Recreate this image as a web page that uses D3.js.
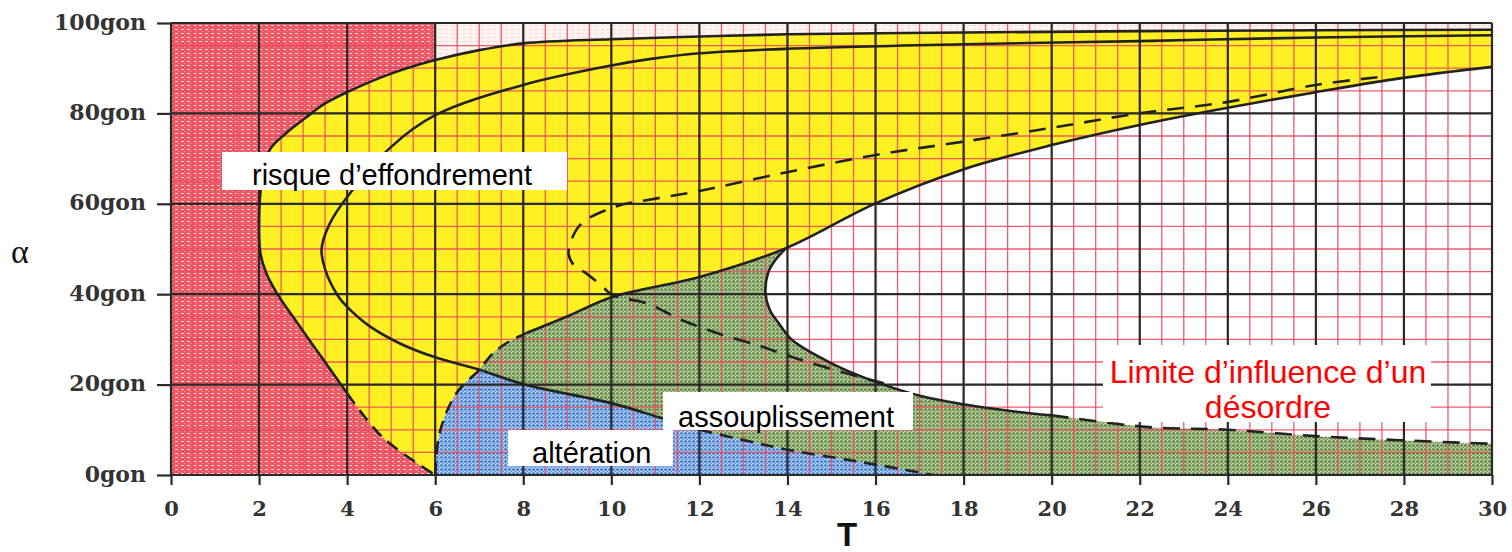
<!DOCTYPE html>
<html><head><meta charset="utf-8">
<script src="https://cdn.jsdelivr.net/npm/d3@7"></script>
<style>body{margin:0;background:#fff;} svg{display:block;}</style>
</head><body><svg id="c" width="1512" height="552"></svg>
<script>
// ---------- data ----------
const xTicks = [0,2,4,6,8,10,12,14,16,18,20,22,24,26,28,30];
const yTicks = [0,20,40,60,80,100];
const yTickLabels = ["0gon","20gon","40gon","60gon","80gon","100gon"];

// curves: [T, alpha(gon)]
const curveA_solid = [[30,98.5],[26,98.4],[22,98.2],[18,97.9],[14,97.5],[12,97.0],[10,96.4],[8,95.5],[7,94.0],[6,91.8],[5,88.8],[4,84.7],[3.5,82.2],[3.08,79.2],[2.6,75.5],[2.24,71.9],[2.06,65],[2.0,56.4],[2.03,49.1],[2.17,44.5],[2.4,40.3],[2.77,35],[3.3,27.7],[4.0,18.1]];
const curveA_dash = [[4.0,18.1],[4.8,8.4],[6,0]];
const curveB_solid = [[30,97.3],[26,96.8],[22,96.0],[18,95.3],[14,94.3],[12,93.3],[10.86,92.0],[10,90.6],[8,86.3],[6,79.6],[5,72.6],[4,61.5],[3.6,55.5],[3.42,50],[3.5,45.5],[3.8,39.5],[4,37.2],[4.5,33],[5.2,29.1],[5.95,26.2],[7.0,23.3],[8.07,19.9],[10,15.9],[11.1,12.7],[12,10.0]];
const curveB_dash = [[12,10.0],[13.1,7.5],[14,5.6],[15.4,3.3],[16.3,1.8],[17.3,0]];
const curveC_dash = [[6,0],[6.1,9.3],[6.48,18.1],[7.0,23.3],[7.3,26.8],[7.62,29.2],[8.07,31.4]];
const curveC_solid = [[8.07,31.4],[8.98,35],[10.02,39.4],[12,43.8],[13.97,50.2],[15.4,57.2],[16,60.1],[17.96,67.5],[20,73],[21.97,77.4],[23.97,81.2],[26,84.7],[27.94,87.8],[30,90.3]];
const curveD_solid = [[13.97,50.2],[13.72,47.5],[13.56,44.7],[13.5,40.2],[13.6,36.5],[13.8,33.6],[14.1,29.9],[15,24.7],[16,20.6],[17.1,17.3],[17.96,15.7],[19.2,14.0],[20,13.2]];
const curveD_dash = [[20,13.2],[22.2,10.6],[24,10.0],[26,8.6],[27.9,7.7],[30,6.9]];
const curveE_dash = [[27.4,88.0],[26,86.3],[23.97,82.5],[21.97,80],[20,76.8],[17.96,73.7],[16,70.8],[13.9,66.8],[11.92,62.7],[10.86,60.9],[10.1,59.4],[9.34,55.8],[9.1,52.2],[9.03,49],[9.15,46.4],[9.43,44.6],[9.8,41.7],[10.02,39.8],[10.8,38],[11.6,34.3],[12.4,31.4],[13.36,28.6],[14.26,25.6],[15.3,22.6],[16.3,20.0]];

const labelsBlack = ["risque d\u2019effondrement","assouplissement","alt\u00e9ration"];
const labelRed = ["Limite d\u2019influence d\u2019un","d\u00e9sordre"];
const xTitle = "T";
const yTitle = "\u03b1";

// ---------- drawing ----------
const svg = d3.select("#c");
const x = d3.scaleLinear().domain([0,30]).range([171,1492]);
const y = d3.scaleLinear().domain([0,100]).range([475,23]);
const defs = svg.append("defs");

defs.append("clipPath").attr("id","plot").append("rect")
  .attr("x",x(0)).attr("y",y(100)).attr("width",x(30)-x(0)).attr("height",y(0)-y(100));

function pat(id,w,h,bg,draw){
  const p = defs.append("pattern").attr("id",id).attr("patternUnits","userSpaceOnUse")
    .attr("width",w).attr("height",h);
  p.append("rect").attr("width",w).attr("height",h).attr("fill",bg);
  draw(p);
}
pat("pRed",6,4,"#ee5662",p=>{
  p.append("rect").attr("x",1).attr("y",1).attr("width",3).attr("height",1).attr("fill","#fff").attr("opacity",0.75);
  p.append("rect").attr("x",4).attr("y",3).attr("width",1).attr("height",1).attr("fill","#fff").attr("opacity",0.5);
});
pat("pTop",6,4,"#fdf3f1",p=>{
  p.append("rect").attr("x",1).attr("y",1).attr("width",3).attr("height",1).attr("fill","#f5b5b5").attr("opacity",0.5);
});
pat("pGreen",4,4,"#b9cf9e",p=>{
  p.append("circle").attr("cx",1.5).attr("cy",1.5).attr("r",1.3).attr("fill","#4e7b37");
  p.append("circle").attr("cx",3.5).attr("cy",3.5).attr("r",0.9).attr("fill","#6f9652");
});
pat("pBlue",4,4,"#b0cff3",p=>{
  p.append("circle").attr("cx",1.5).attr("cy",1.5).attr("r",1.3).attr("fill","#3070c8");
  p.append("circle").attr("cx",3.5).attr("cy",3.5).attr("r",0.9).attr("fill","#5b90d6");
});

const line = d3.line().x(d=>x(d[0])).y(d=>y(d[1])).curve(d3.curveCatmullRom.alpha(0.5));
// build a closed path from several segments (each drawn by the line generator)
const area = (...segs) => segs.map((s,i)=> i===0 ? line(s) : line(s).replace(/^M/,"L")).join("") + "Z";

const curveA = curveA_solid.concat(curveA_dash.slice(1));
const curveB = curveB_solid.concat(curveB_dash.slice(1));
const curveC = curveC_dash.concat(curveC_solid.slice(1));
const curveD = curveD_solid.concat(curveD_dash.slice(1));
const iA6 = curveA.findIndex(d=>d[0]===6);
const iBx = curveB.findIndex(d=>d[0]===7.0);
const iCx = curveC.findIndex(d=>d[0]===7.0);
const iCn = curveC.findIndex(d=>d[0]===13.97);
const A6 = curveA[iA6], Aend = curveA[0], Cend = curveC[curveC.length-1], Dend = curveD[curveD.length-1];
const Bzero = curveB[curveB.length-1];

const g = svg.append("g").attr("clip-path","url(#plot)");
// regions
g.append("path").attr("d", area([[6,100],[30,100]],[[30,100],Aend],curveA.slice(0,iA6+1),[A6,[6,100]])).attr("fill","url(#pTop)");
g.append("path").attr("d", area([[0,0],[0,100]],[[0,100],[6,100]],[[6,100],A6],curveA.slice(iA6))).attr("fill","url(#pRed)");
g.append("path").attr("d", area(curveA, curveC, [Cend, Aend])).attr("fill","#fff023");
g.append("path").attr("d", area(curveC.slice(iCx,iCn+1), curveD, [Dend,[30,0]], [[30,0],Bzero], curveB.slice(iBx).reverse())).attr("fill","url(#pGreen)");
g.append("path").attr("d", area(curveC.slice(0,iCx+1), curveB.slice(iBx), [Bzero,[6,0]])).attr("fill","url(#pBlue)");

// minor red grid
const minorX = d3.range(0,30.001,0.5), minorY = d3.range(0,100.001,5);
g.append("g").selectAll("line").data(minorX).join("line")
  .attr("x1",d=>x(d)).attr("x2",d=>x(d)).attr("y1",y(0)).attr("y2",y(100))
  .attr("stroke","#ee4a62").attr("stroke-width",1.3).attr("opacity",0.9);
g.append("g").selectAll("line").data(minorY).join("line")
  .attr("y1",d=>y(d)).attr("y2",d=>y(d)).attr("x1",x(0)).attr("x2",x(30))
  .attr("stroke","#ee4a62").attr("stroke-width",1.3).attr("opacity",0.9);

// major black grid
const majorC = "#2a2a2a";
svg.append("g").selectAll("line").data(xTicks).join("line")
  .attr("x1",d=>x(d)).attr("x2",d=>x(d)).attr("y1",y(0)).attr("y2",y(100))
  .attr("stroke",majorC).attr("stroke-width",2.2);
svg.append("g").selectAll("line").data(yTicks).join("line")
  .attr("y1",d=>y(d)).attr("y2",d=>y(d)).attr("x1",x(0)).attr("x2",x(30))
  .attr("stroke",majorC).attr("stroke-width",2.2);

// curves
const cg = svg.append("g").attr("clip-path","url(#plot)").attr("fill","none").attr("stroke","#222").attr("stroke-width",2.6).attr("stroke-linecap","butt");
[curveA_solid, curveB_solid, curveC_solid, curveD_solid].forEach(c=>cg.append("path").attr("d",line(c)));
[curveA_dash, curveB_dash, curveC_dash].forEach(c=>cg.append("path").attr("d",line(c)).attr("stroke-dasharray","13,8"));
[curveD_dash, curveE_dash].forEach(c=>cg.append("path").attr("d",line(c)).attr("stroke-dasharray","17,11"));

// axes
const tickFont = "'DejaVu Serif', serif";
const ya = svg.append("g").attr("transform",`translate(${x(0)},0)`)
  .call(d3.axisLeft(y).tickValues(yTicks).tickFormat((d,i)=>yTickLabels[i]).tickSize(14).tickPadding(11));
ya.select(".domain").remove();
ya.selectAll("line").attr("stroke",majorC).attr("stroke-width",2.2);
ya.selectAll("text").attr("dy",6).attr("font-family",tickFont).attr("font-weight","bold").attr("font-size",22).attr("fill","#333");

const xa = svg.append("g").attr("transform",`translate(0,${y(0)})`)
  .call(d3.axisBottom(x).tickValues(xTicks).tickFormat(d3.format("d")).tickSize(10));
xa.select(".domain").remove();
xa.selectAll("line").attr("stroke",majorC).attr("stroke-width",2.2);
xa.selectAll("text").attr("y",41).attr("dy",0).attr("font-family",tickFont).attr("font-weight","bold").attr("font-size",21).attr("fill","#333");

// titles
svg.append("text").attr("x",847).attr("y",546).attr("text-anchor","middle")
  .attr("font-family","'Liberation Sans', Arial, sans-serif").attr("font-weight","bold").attr("font-size",33).attr("fill","#111").text(xTitle);
svg.append("text").attr("x",11).attr("y",263)
  .attr("font-family","'Liberation Serif', serif").attr("font-size",34).attr("fill","#111").text(yTitle);

// annotation boxes
const sans = "'Liberation Sans', Arial, sans-serif";
function box(x0,y0,x1,y1){ svg.append("rect").attr("x",x0).attr("y",y0).attr("width",x1-x0).attr("height",y1-y0).attr("fill","#fff"); }
box(222,152,567,190);
svg.append("text").attr("x",252).attr("y",185).attr("font-family",sans).attr("font-size",29).attr("fill","#000").text(labelsBlack[0]);
box(663,392,913,430);
svg.append("text").attr("x",678).attr("y",427).attr("font-family",sans).attr("font-size",29).attr("fill","#000").text(labelsBlack[1]);
box(508,430,673,466);
svg.append("text").attr("x",532).attr("y",463).attr("font-family",sans).attr("font-size",29).attr("fill","#000").text(labelsBlack[2]);
box(1103,345,1431,422);
svg.append("text").attr("x",1268).attr("y",383).attr("text-anchor","middle").attr("font-family",sans).attr("font-size",32).attr("fill","#ff0000").text(labelRed[0]);
svg.append("text").attr("x",1268).attr("y",418).attr("text-anchor","middle").attr("font-family",sans).attr("font-size",32).attr("fill","#ff0000").text(labelRed[1]);
</script></body></html>
